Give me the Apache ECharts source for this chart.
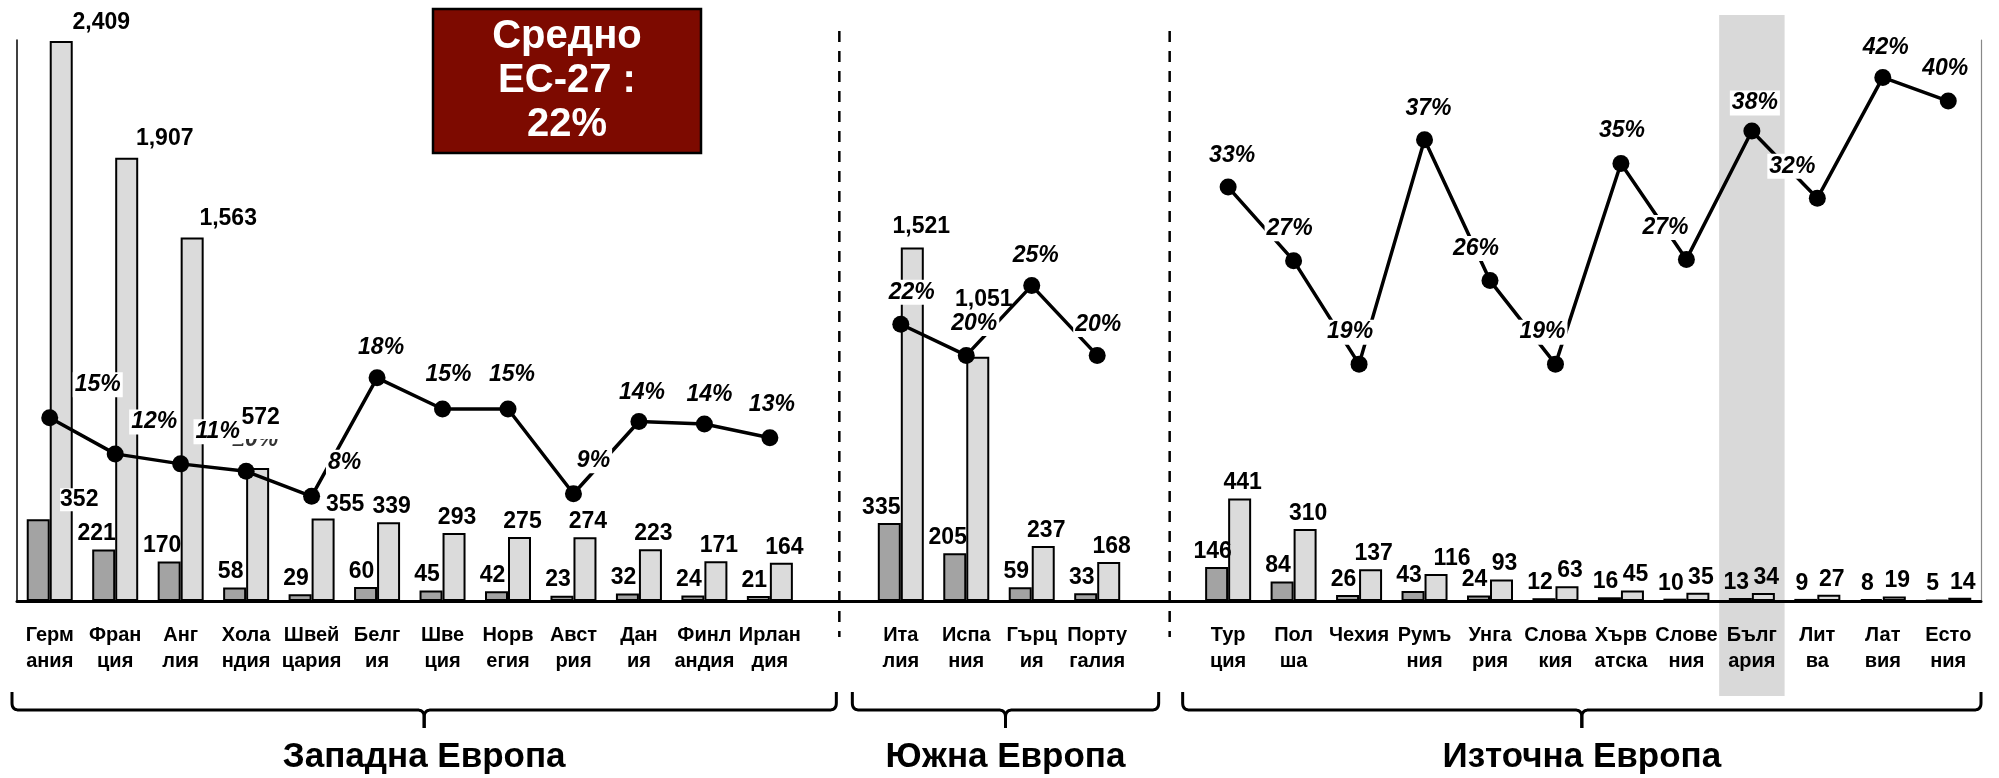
<!DOCTYPE html>
<html>
<head>
<meta charset="utf-8">
<script src="https://cdn.jsdelivr.net/npm/echarts@6/dist/echarts.min.js"></script>
<style>
html,body{margin:0;padding:0;background:#fff;}
#chart{width:1999px;height:778px;}
</style>
</head>
<body>
<div id="chart"></div>
<script>
// ---- DATA ----
const westCountries = ['Герм\nания','Фран\nция','Анг\nлия','Хола\nндия','Швей\nцария','Белг\nия','Шве\nция','Норв\nегия','Авст\nрия','Дан\nия','Финл\nандия','Ирлан\nдия'];
const southCountries = ['Ита\nлия','Испа\nния','Гърц\nия','Порту\nгалия'];
const eastCountries = ['Тур\nция','Пол\nша','Чехия','Румъ\nния','Унга\nрия','Слова\nкия','Хърв\nатска','Слове\nния','Бълг\nария','Лит\nва','Лат\nвия','Есто\nния'];
const groupTitles = ['Западна Европа','Южна Европа','Източна Европа'];
const darkValues = [352,221,170,58,29,60,45,42,23,32,24,21, 335,205,59,33, 146,84,26,43,24,12,16,10,13,9,8,5];
const lightValues = [2409,1907,1563,572,355,339,293,275,274,223,171,164, 1521,1051,237,168, 441,310,137,116,93,63,45,35,34,27,19,14];
const shareValues = [14.7,11.8,11.0,10.4,8.4,17.9,15.4,15.4,8.6,14.4,14.2,13.1, 22.2,19.7,25.3,19.7, 33.2,27.3,19.0,37.0,25.7,19.0,35.1,27.4,37.7,32.3,42.0,40.1];
const averageText = 'Средно\nЕС-27 :\n22%';
const highlighted = 'Бълг\nария';

// ---- STYLE TABLES (label nudges, by category) ----
const darkLabelNudge = {'Герм\nания':[41,-4],'Фран\nция':[-7,0],'Анг\nлия':[-7,0],'Ита\nлия':[-8,0],'Испа\nния':[-7,0]};
const lightLabelNudge = {'Герм\nания':[40,-3],'Фран\nция':[38,-3],'Анг\nлия':[36,-3],'Хола\nндия':[3,-25],'Швей\nцария':[22,2],'Ита\nлия':[9,-5],'Испа\nния':[6,-41],'Румъ\nния':[16,0]};
const lineLabelNudge = [[48,-33],[39,-32],[37,-32],[9,-32],[33,-34],[4,-30],[6,-34],[4,-34],[20,-33],[3,-29],[5,-29],[2,-33],
  [11,-32],[8,-32],[4,-30],[1,-31],
  [4,-31],[-4,-32],[-9,-32],[4,-31],[-14,-32],[-13,-32],[1,-33],[-21,-32],[3,-28],[-25,-32],[3,-30],[-3,-32]];
const lowLineLabels = ['Хола\nндия']; // labels drawn underneath neighbouring labels

const FONT = "'Liberation Sans', Arial, sans-serif";
const GAP1 = ' ', GAP2 = '  ';
const categories = [...westCountries, GAP1, ...southCountries, GAP2, ...eastCountries];
const nW = westCountries.length, nS = southCountries.length;
function withGaps(arr){ return [...arr.slice(0,nW), null, ...arr.slice(nW,nW+nS), null, ...arr.slice(nW+nS)].map(v => v === null ? '-' : v); }
const countryNames = [...westCountries, ...southCountries, ...eastCountries];

function barData(values, nudge, defDx, labelExtra){
  return withGaps(countryNames.map((name,i)=>({value: values[i], label:Object.assign({offset: nudge[name] || [defDx,0]}, labelExtra[name] || {})})));
}
const lineData = withGaps(shareValues.map((v,i)=>({value:v, label:{show: !lowLineLabels.includes(countryNames[i]), offset: lineLabelNudge[i]}})));
const lowLabelData = withGaps(shareValues.map((v,i)=> lowLineLabels.includes(countryNames[i]) ? {value:v, label:{offset: lineLabelNudge[i]}} : null));

const chart = echarts.init(document.getElementById('chart'), null, {renderer:'canvas'});
const barLabel = {
  show:true, position:'top', distance:4, color:'#000', fontSize:23, fontWeight:'bold', fontFamily:FONT,
  formatter: p => Number(p.value).toLocaleString('en-US')
};
const shareLabel = {show:true,position:'inside',color:'#000',fontSize:23,fontWeight:'bold',fontStyle:'italic',fontFamily:FONT,
  backgroundColor:'#fff',padding:[1,2],formatter:p=>Math.round(p.value)+'%'};
chart.setOption({
  animation:false,
  backgroundColor:'#fff',
  grid:{left:17,right:18,top:40,bottom:177},
  xAxis:{
    type:'category', data:categories,
    axisLine:{lineStyle:{color:'#000',width:3}},
    axisTick:{interval:0,length:12,lineStyle:{color:'#000',width:2.5}},
    axisLabel:{interval:0,fontSize:20,fontWeight:'bold',color:'#000',lineHeight:26,margin:21,fontFamily:FONT}
  },
  yAxis:[
    {type:'value',min:0,max:2413,axisLine:{show:true,lineStyle:{color:'#000',width:1.5}},axisTick:{show:false},axisLabel:{show:false},splitLine:{show:false}},
    {type:'value',min:0,max:45,position:'right',axisLine:{show:true,lineStyle:{color:'#888',width:1.2}},axisTick:{show:false},axisLabel:{show:false},splitLine:{show:false}}
  ],
  series:[
    {type:'scatter',name:'shareLow',yAxisIndex:1,data:lowLabelData,symbolSize:1,itemStyle:{color:'rgba(0,0,0,0)'},z:1,label:shareLabel,silent:true},
    {type:'bar',name:'dark',data:barData(darkValues,darkLabelNudge,-4,{'Герм\nания':{backgroundColor:'#fff'}}),barWidth:23,barGap:'0%',
     itemStyle:{color:'#a3a3a3',borderColor:'#000',borderWidth:2},label:barLabel,z:2},
    {type:'bar',name:'light',data:barData(lightValues,lightLabelNudge,3,{'Хола\nндия':{backgroundColor:'#fff',padding:[0,3,10,3]}}),barWidth:23,barGap:'0%',
     itemStyle:{color:'#dbdbdb',borderColor:'#000',borderWidth:2},label:barLabel,z:2},
    {type:'line',name:'share',yAxisIndex:1,data:lineData,connectNulls:false,symbol:'circle',symbolSize:17,
     lineStyle:{color:'#000',width:3.5},itemStyle:{color:'#000'},z:3,label:shareLabel}
  ]
});

// ---- decorations computed from the axis ----
const px = i => chart.convertToPixel({xAxisIndex:0}, i);
const catW = px(1) - px(0);
const g1 = categories.indexOf(GAP1), g2 = categories.indexOf(GAP2);
const last = categories.length - 1;
const hi = categories.indexOf(highlighted);
const yTop = 692, yLine = 710, ySpike = 728, r = 7;
function quad(p0,p1,p2){
  const pts = [];
  for (let k=0;k<=8;k++){ const t=k/8, a=(1-t)*(1-t), b=2*(1-t)*t, c=t*t;
    pts.push([a*p0[0]+b*p1[0]+c*p2[0], a*p0[1]+b*p1[1]+c*p2[1]]); }
  return pts;
}
function braceHalves(x1,x2){
  const m = (x1+x2)/2;
  const left = [[x1,yTop], ...quad([x1,yLine-r],[x1,yLine],[x1+r,yLine]), ...quad([m-r,yLine],[m,yLine],[m,yLine+r]), [m,ySpike]];
  const right = [[m,ySpike], ...quad([m,yLine+r],[m,yLine],[m+r,yLine]), ...quad([x2-r,yLine],[x2,yLine],[x2,yLine-r]), [x2,yTop]];
  return [left,right];
}
const braces = [
  [px(0)-catW/2-5, px(g1)+1],
  [px(g1)+17, px(g2)-4],
  [px(g2)+20, px(last)+catW/2]
];
const graphics = [
  {type:'rect',z:-10,shape:{x:px(hi)-catW/2,y:15,width:catW,height:681},style:{fill:'#d9d9d9'},silent:true},
  {type:'line',z:1,shape:{x1:px(g1)+4,y1:31,x2:px(g1)+4,y2:637},style:{stroke:'#000',lineWidth:2.5,lineDash:[11,9]}},
  {type:'line',z:1,shape:{x1:px(g2)+7,y1:31,x2:px(g2)+7,y2:637},style:{stroke:'#000',lineWidth:2.5,lineDash:[11,9]}},
  {type:'rect',z:10,shape:{x:433,y:9,width:268,height:144},style:{fill:'#7d0a00',stroke:'#000',lineWidth:2.5}},
  {type:'text',z:11,x:567,y:81,style:{text:averageText,fill:'#fff',fontSize:40,fontWeight:'bold',fontFamily:FONT,align:'center',verticalAlign:'middle',lineHeight:44}}
];
braces.forEach((b,i)=>{
  braceHalves(b[0],b[1]).forEach(pts=>{
    graphics.push({type:'polyline',z:5,shape:{points:pts},style:{stroke:'#000',lineWidth:3,fill:null,lineJoin:'round'}});
  });
  graphics.push({type:'text',z:5,x:(b[0]+b[1])/2,y:757,style:{text:groupTitles[i],fill:'#000',fontSize:35,fontWeight:'bold',fontFamily:FONT,align:'center',verticalAlign:'middle'}});
});
chart.setOption({graphic:graphics});
</script>
</body>
</html>
